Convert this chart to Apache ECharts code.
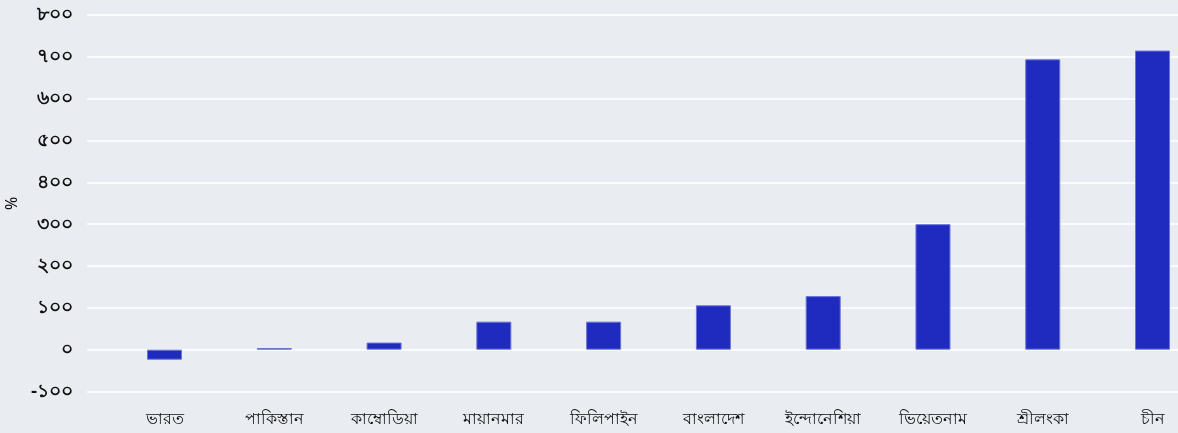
<!DOCTYPE html>
<html>
<head>
<meta charset="utf-8">
<script src="https://cdn.jsdelivr.net/npm/echarts@6/dist/echarts.min.js"></script>
<style>
html,body{margin:0;padding:0;background:#e9edf2;}
#chart{width:1178px;height:433px;}
</style>
</head>
<body>
<div id="chart"></div>
<script>
const categories = ['ভারত','পাকিস্তান','কাম্বোডিয়া','মায়ানমার','ফিলিপাইন','বাংলাদেশ','ইন্দোনেশিয়া','ভিয়েতনাম','শ্রীলংকা','চীন'];
const values = [-24, 4, 17, 67, 67, 106, 128, 300, 694, 715];
const yTicks = [-100, 0, 100, 200, 300, 400, 500, 600, 700, 800];
const yTickLabels = ['-১০০','০','১০০','২০০','৩০০','৪০০','৫০০','৬০০','৭০০','৮০০'];
const yTitle = '%';

const chart = echarts.init(document.getElementById('chart'));
const font = "'Noto Sans', 'DejaVu Sans', sans-serif";
chart.setOption({
  backgroundColor: '#e9edf2',
  animation: false,
  grid: {left: 87, right: 0, top: 15, bottom: 41.5, containLabel: false, outerBoundsMode: 'none'},
  xAxis: {
    type: 'value', min: -0.706, max: 9.232,
    splitLine: {show: false}, axisLine: {show: false}, axisTick: {show: false},
    axisLabel: {
      customValues: categories.map((c, i) => i),
      formatter: v => categories[Math.round(v)] || '',
      color: '#111', fontSize: 16, margin: 20, fontFamily: font
    }
  },
  yAxis: {
    type: 'value', min: -100, max: 800, interval: 100,
    name: yTitle, nameLocation: 'middle', nameGap: 53, nameRotate: 90,
    nameTextStyle: {color: '#111', fontSize: 16, fontFamily: font},
    axisLine: {show: false}, axisTick: {show: false},
    splitLine: {lineStyle: {color: '#ffffff', width: 1.5}},
    axisLabel: {
      formatter: v => yTickLabels[yTicks.indexOf(v)] ?? String(v),
      color: '#111', fontSize: 19, fontWeight: 600, margin: 14, fontFamily: font
    }
  },
  series: [{
    type: 'bar',
    data: values.map((v, i) => [i, v]),
    barWidth: 35,
    itemStyle: {color: '#1f2bbf', borderColor: '#6b73d6', borderWidth: 1}
  }]
});
</script>
</body>
</html>
